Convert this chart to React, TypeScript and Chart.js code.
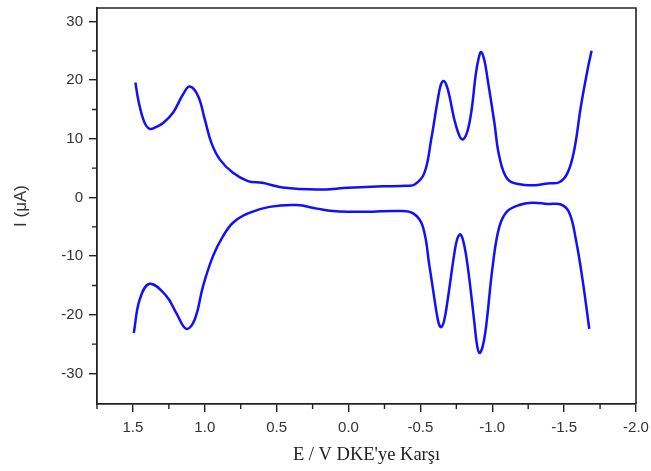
import React, { useEffect, useRef } from 'react';
import { Chart, registerables } from 'chart.js';

Chart.register(...registerables);

// Forward (upper) branch: potential E (V) and current I (µA)
const upperE = [1.483, 1.46, 1.42, 1.383, 1.34, 1.29, 1.22, 1.151, 1.105, 1.047, 1.0, 0.954, 0.896, 0.804, 0.7, 0.6, 0.46, 0.22, 0.0, -0.24, -0.4, -0.46, -0.528, -0.575, -0.621, -0.642, -0.662, -0.682, -0.702, -0.748, -0.794, -0.841, -0.887, -0.905, -0.922, -0.945, -0.968, -1.015, -1.049, -1.107, -1.2, -1.293, -1.385, -1.466, -1.524, -1.571, -1.617, -1.668, -1.691];
const upperI = [19.6, 16.3, 12.8, 11.7, 12.0, 12.7, 14.5, 17.6, 18.9, 17.3, 13.3, 9.3, 6.5, 4.2, 2.8, 2.5, 1.7, 1.35, 1.65, 1.9, 2.0, 2.2, 4.2, 9.9, 16.7, 19.2, 19.85, 19.1, 17.3, 12.2, 9.9, 12.7, 21.3, 23.7, 24.8, 23.4, 20.1, 12.7, 7.0, 3.1, 2.2, 2.1, 2.4, 2.6, 4.2, 8.2, 15.6, 22.4, 25.0];

// Reverse (lower) branch
const lowerE = [1.494, 1.453, 1.383, 1.267, 1.198, 1.128, 1.07, 1.012, 0.943, 0.873, 0.804, 0.7, 0.55, 0.36, 0.22, 0.11, -0.12, -0.35, -0.45, -0.516, -0.563, -0.609, -0.627, -0.644, -0.665, -0.69, -0.737, -0.757, -0.778, -0.8, -0.829, -0.876, -0.893, -0.91, -0.932, -0.957, -1.003, -1.049, -1.107, -1.2, -1.281, -1.385, -1.478, -1.536, -1.582, -1.628, -1.675];
const lowerI = [-23.1, -17.4, -14.7, -16.8, -19.7, -22.4, -20.8, -15.1, -10.0, -6.6, -4.3, -2.7, -1.6, -1.3, -1.9, -2.3, -2.45, -2.3, -2.7, -4.9, -11.7, -19.1, -21.4, -22.1, -21.0, -17.4, -9.4, -7.0, -6.3, -7.6, -11.7, -21.4, -25.0, -26.5, -25.5, -22.0, -11.7, -5.0, -2.3, -1.2, -0.9, -1.1, -1.2, -2.6, -7.2, -14.0, -22.4];

const xTicks = [1.5, 1.0, 0.5, 0.0, -0.5, -1.0, -1.5, -2.0];
const yTicks = [30, 20, 10, 0, -10, -20, -30];
const xMinor = [1.75, 1.25, 0.75, 0.25, -0.25, -0.75, -1.25, -1.75];
const yMinor = [25, 15, 5, -5, -15, -25];

const xTitle = "E / V DKE'ye Karşı";
const yTitle = 'I (μA)';

const AXIS_COLOR = '#222222';
const LINE_COLOR = '#1010ff';

const framePlugin = {
  id: 'frame',
  afterDraw(chart: any) {
    const { ctx, chartArea: a, scales } = chart;
    ctx.save();
    ctx.strokeStyle = AXIS_COLOR;
    ctx.lineWidth = 1.6;
    ctx.beginPath();
    ctx.moveTo(a.left, a.top);
    ctx.lineTo(a.right, a.top);
    ctx.lineTo(a.right, a.bottom);
    ctx.stroke();
    ctx.lineWidth = 1.4;
    ctx.beginPath();
    xMinor.forEach((v) => {
      const px = scales.x.getPixelForValue(v);
      ctx.moveTo(px, a.bottom);
      ctx.lineTo(px, a.bottom + 5);
    });
    yMinor.forEach((v) => {
      const py = scales.y.getPixelForValue(v);
      ctx.moveTo(a.left, py);
      ctx.lineTo(a.left - 5, py);
    });
    ctx.stroke();
    ctx.restore();
  },
};

export default function App() {
  const ref = useRef<HTMLCanvasElement | null>(null);

  useEffect(() => {
    if (!ref.current) return;
    const upper = upperE.map((e, i) => ({ x: e, y: upperI[i] }));
    const lower = lowerE.map((e, i) => ({ x: e, y: lowerI[i] }));
    const tickFont = { family: "'Liberation Sans', Arial, sans-serif", size: 15 };
    const chart = new Chart(ref.current, {
      type: 'scatter',
      data: {
        datasets: [
          { data: upper, showLine: true, borderColor: LINE_COLOR, borderWidth: 2.5, pointRadius: 0, tension: 0.4, fill: false },
          { data: lower, showLine: true, borderColor: LINE_COLOR, borderWidth: 2.5, pointRadius: 0, tension: 0.4, fill: false },
        ],
      },
      options: {
        animation: false,
        responsive: false,
        maintainAspectRatio: false,
        layout: { padding: { top: 8, right: 15, left: 0, bottom: 0 } },
        plugins: { legend: { display: false }, tooltip: { enabled: false } },
        scales: {
          x: {
            type: 'linear',
            reverse: true,
            min: -2.0,
            max: 1.75,
            afterFit: (s: any) => { s.height = 67; s.paddingLeft = 0; s.paddingRight = 0; },
            afterBuildTicks: (s: any) => { s.ticks = xTicks.map((v) => ({ value: v })); },
            ticks: {
              color: '#333333',
              font: tickFont,
              padding: 7,
              maxRotation: 0,
              callback: (v: any) => Number(v).toFixed(1),
            },
            grid: { display: true, drawOnChartArea: false, drawTicks: true, tickLength: 8, color: AXIS_COLOR, lineWidth: 1.4 },
            border: { display: true, color: AXIS_COLOR, width: 1.8 },
            title: {
              display: true,
              text: xTitle,
              color: '#222222',
              font: { family: "'Liberation Serif', 'Times New Roman', serif", size: 18.5 },
              padding: 5,
            },
          },
          y: {
            type: 'linear',
            min: -35.2,
            max: 32.3,
            afterFit: (s: any) => { s.width = 97; s.paddingTop = 0; s.paddingBottom = 0; },
            afterBuildTicks: (s: any) => { s.ticks = yTicks.map((v) => ({ value: v })); },
            ticks: {
              color: '#333333',
              font: tickFont,
              padding: 6,
              callback: (v: any) => String(v),
            },
            grid: { display: true, drawOnChartArea: false, drawTicks: true, tickLength: 8, color: AXIS_COLOR, lineWidth: 1.4 },
            border: { display: true, color: AXIS_COLOR, width: 1.8 },
            title: {
              display: true,
              text: yTitle,
              color: '#333333',
              font: { family: "'Liberation Sans', Arial, sans-serif", size: 17 },
              padding: 11,
            },
          },
        },
      },
      plugins: [framePlugin],
    } as any);
    return () => chart.destroy();
  }, []);

  return (
    <div style={{ position: 'fixed', left: 0, top: 0, width: 651, height: 471, background: '#ffffff' }}>
      <canvas ref={ref} width={651} height={471} style={{ width: 651, height: 471, display: 'block' }} />
    </div>
  );
}
